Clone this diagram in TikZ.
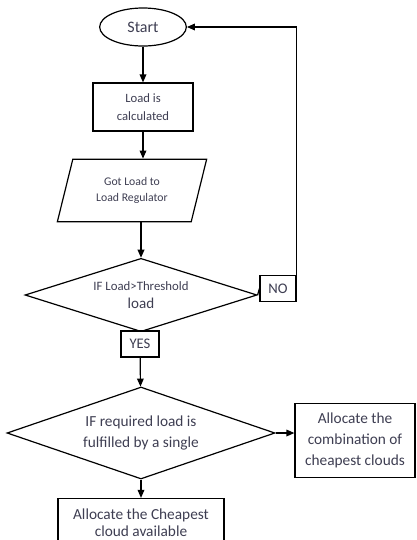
\documentclass[tikz,border=0pt]{standalone}
\usepackage{fontspec}
\setmainfont{Carlito}
\usetikzlibrary{arrows.meta,positioning,shapes.geometric,calc}
\definecolor{ink}{RGB}{62,62,82}

\begin{document}
\begin{tikzpicture}[x=0.75pt,y=-0.75pt,
  font=\fontsize{11.5}{15.5}\selectfont,
  line width=0.9pt,
  bx/.style={draw,fill=white,rectangle,align=center,inner sep=2pt,text=ink},
  el/.style={draw,ellipse,inner sep=0pt,text=ink,
             minimum width=65pt,minimum height=28.5pt},
  par/.style={draw,trapezium,trapezium left angle=60,trapezium right angle=120,
              trapezium stretches body,align=center,inner sep=0pt,text=ink,
              minimum width=112pt,minimum height=47pt},
  dm/.style={draw,diamond,align=center,inner sep=0pt,text=ink},
  ar/.style={-{Triangle[length=6pt,width=5pt]}}]

\useasboundingbox (0,0) rectangle (417,540);

\node[el] (start) at (143,27) {\fontsize{12}{14}\selectfont Start};
\node[bx,minimum width=75pt,minimum height=36pt,
  font=\fontsize{9.5}{14}\selectfont] (calc) at (143,107) {Load is\\calculated};
\node[par,font=\fontsize{8.8}{12.5}\selectfont] (got) at (132,190.5)
  {Got Load to\\Load Regulator};
\node[dm,aspect=3.2,minimum width=174pt,minimum height=55pt,
  font=\fontsize{9.6}{13.75}\selectfont] (thr) at (141,295)
  {IF Load>Threshold\\{\fontsize{11.3}{13}\selectfont load}};
\node[bx,minimum width=27pt,minimum height=20pt,font=\fontsize{11}{13}\selectfont]
  (no) at (278,288.5) {NO};
\node[bx,minimum width=28.5pt,minimum height=19.5pt,font=\fontsize{11}{13}\selectfont]
  (yes) at (140,344) {YES};
\node[dm,aspect=2.9,minimum width=201pt,minimum height=69pt] (req) at (141,433)
  {IF required load is\\fulfilled by a single};
\node[bx,minimum width=90pt,minimum height=56pt,font=\fontsize{11.5}{16}\selectfont]
  (comb) at (355,440.5) {Allocate the\\combination of\\cheapest clouds};
\node[bx,minimum width=124.5pt,minimum height=36.75pt,font=\fontsize{11.5}{12.5}\selectfont]
  (cheap) at (141,523) {Allocate the Cheapest\\cloud available};

% main flow
\draw[ar] (start) -- (calc);
\draw[ar] (calc.south) -- (calc.south |- got.north);
\draw[ar] (thr.north |- got.south) -- (thr.north);
\draw (thr.east) -- (no.west);
\draw[ar] (no.north east) |- (start.east);
\draw[ar] (yes) -- (req);
\draw[ar] (req.east) -- (req.east -| comb.west);
\draw[ar] (req) -- (cheap);
\end{tikzpicture}
\end{document}
